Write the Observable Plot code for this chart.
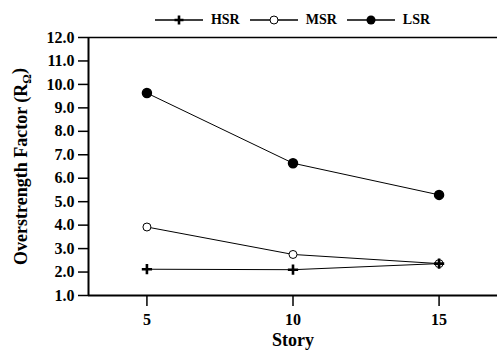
<!DOCTYPE html>
<html>
<head>
<meta charset="utf-8">
<script src="https://cdn.jsdelivr.net/npm/d3@7"></script>
<script src="https://cdn.jsdelivr.net/npm/@observablehq/plot@0.6"></script>
<style>
  body { margin: 0; background: #fff; font-family: "Liberation Serif", "Times New Roman", serif; }
  #legend { height: 30px; box-sizing: border-box; padding-top: 10px; padding-left: 88px; width: 497px;
            display: flex; justify-content: center; align-items: center; font-weight: bold; font-size: 14px; }
  #legend .item { display: flex; align-items: center; margin: 0 5px; }
  #legend svg { margin-right: 8px; }
</style>
</head>
<body>
<div id="legend"></div>
<div id="chart"></div>
<script>
const stories = [5, 10, 15];
const seriesNames = ["HSR", "MSR", "LSR"];
const hsr = [2.12, 2.10, 2.36];
const msr = [3.92, 2.75, 2.36];
const lsr = [9.63, 6.64, 5.29];
const yTicks = [1, 2, 3, 4, 5, 6, 7, 8, 9, 10, 11, 12];
const xTicks = [5, 10, 15];

const valuesBySeries = { HSR: hsr, MSR: msr, LSR: lsr };
const data = seriesNames.flatMap(s => stories.map((st, i) => ({ series: s, story: st, value: valuesBySeries[s][i] })));

const font = '"Liberation Serif", "Times New Roman", serif';

const plot = Plot.plot({
  width: 497,
  height: 321,
  marginLeft: 88,
  marginRight: 0,
  marginTop: 7,
  marginBottom: 56,
  style: { fontFamily: font, fontWeight: "bold", fontSize: "16px", background: "white", color: "black" },
  x: { domain: [3, 17] },
  y: { domain: [1, 12] },
  marks: [
    Plot.ruleY([12], { stroke: "black", strokeWidth: 1.5 }),
    Plot.ruleY([1], { stroke: "black", strokeWidth: 2 }),
    Plot.ruleX([3], { stroke: "black", strokeWidth: 2 }),
    Plot.axisY({ ticks: yTicks, tickFormat: d => d.toFixed(1), tickSize: 10, tickPadding: 4, strokeWidth: 1.5,
                 label: "Overstrength Factor (R)", labelAnchor: "center", labelOffset: 74, labelArrow: "none" }),
    Plot.axisX({ ticks: xTicks, tickFormat: d => String(d), tickSize: 11, tickPadding: 7, strokeWidth: 1.5,
                 label: "Story", labelAnchor: "center", labelOffset: 50, labelArrow: "none" }),
    Plot.line(data, { x: "story", y: "value", z: "series", stroke: "black", strokeWidth: 1 }),
    Plot.dot(data.filter(d => d.series === "LSR"), { x: "story", y: "value", r: 4.5, fill: "black", stroke: "black" }),
    Plot.dot(data.filter(d => d.series === "MSR"), { x: "story", y: "value", r: 4, fill: "white", stroke: "black", strokeWidth: 1 }),
    Plot.dot(data.filter(d => d.series === "HSR"), { x: "story", y: "value", symbol: "plus", r: 3.4, stroke: "black", strokeWidth: 2.6 })
  ]
});
document.getElementById("chart").appendChild(plot);

// subscript in y label
const svg = d3.select(plot);
svg.selectAll("text").style("font-family", font).style("font-weight", "bold");
svg.selectAll('g[aria-label="x-axis label"] text, g[aria-label="y-axis label"] text').style("font-size", "18px");
const yl = svg.select('g[aria-label="y-axis label"] text');
yl.text("Overstrength Factor (R");
yl.append("tspan").attr("dy", "0.3em").style("font-size", "12px").text("Ω");
yl.append("tspan").attr("dy", "-0.3em").text(")");

// legend
const legend = d3.select("#legend");
seriesNames.forEach(name => {
  const item = legend.append("div").attr("class", "item");
  const s = item.append("svg").attr("width", 48).attr("height", 14);
  s.append("line").attr("x1", 0).attr("x2", 48).attr("y1", 7).attr("y2", 7).attr("stroke", "black").attr("stroke-width", 1.5);
  if (name === "HSR") {
    s.append("path").attr("d", "M24,2.5V11.5M19.5,7H28.5").attr("stroke", "black").attr("stroke-width", 2.6);
  } else if (name === "MSR") {
    s.append("circle").attr("cx", 24).attr("cy", 7).attr("r", 4).attr("fill", "white").attr("stroke", "black");
  } else {
    s.append("circle").attr("cx", 24).attr("cy", 7).attr("r", 4.5).attr("fill", "black");
  }
  item.append("span").text(name);
});
</script>
</body>
</html>
